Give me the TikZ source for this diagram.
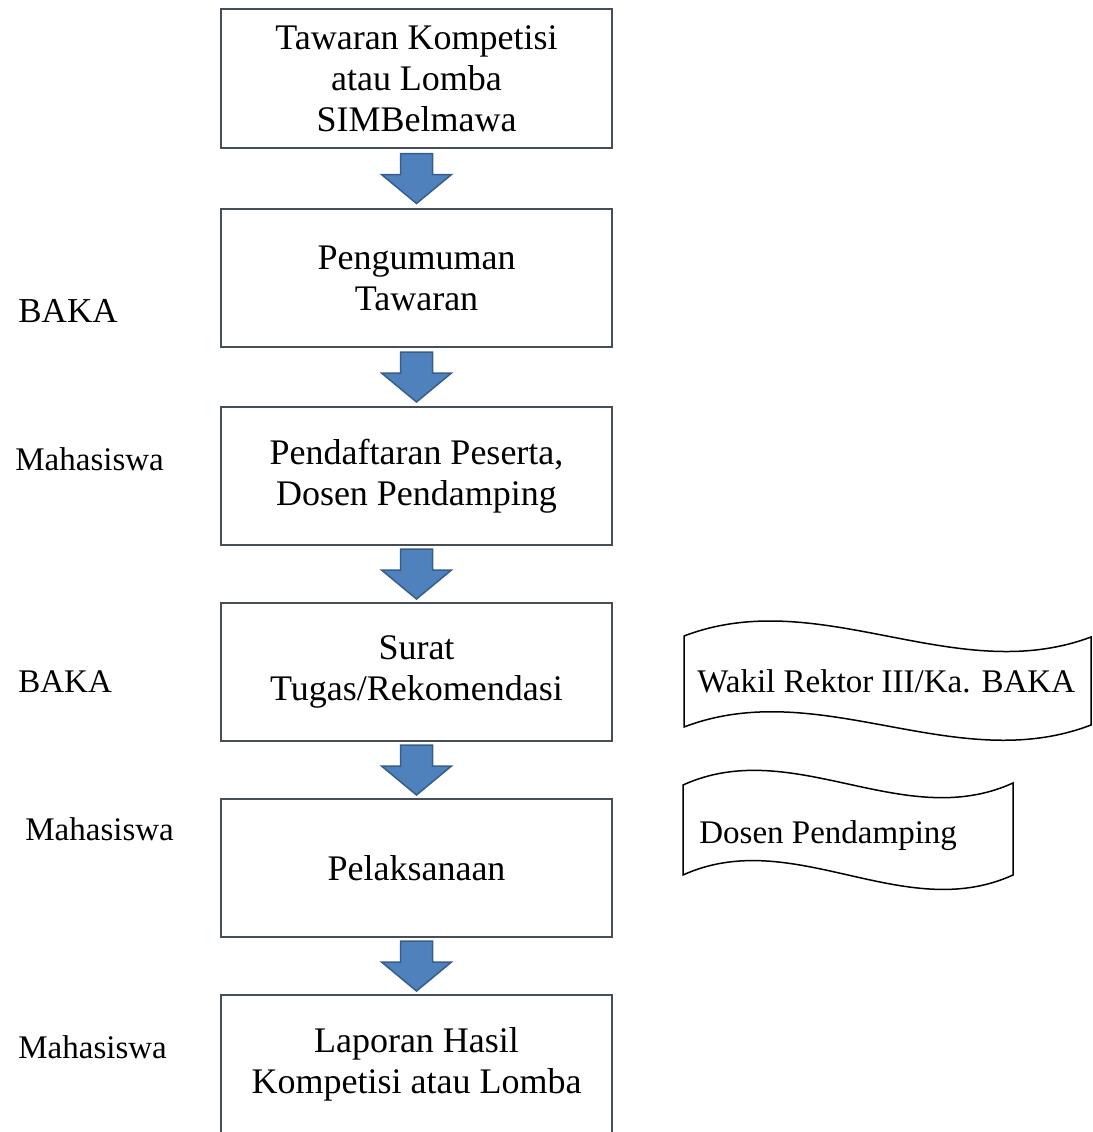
\documentclass[tikz,border=0pt]{standalone}
\usepackage{fontspec}
\setmainfont{Liberation Serif}
\usetikzlibrary{calc}

\definecolor{boxline}{RGB}{70,78,88}
\definecolor{arrowfill}{RGB}{79,129,189}
\definecolor{arrowline}{RGB}{56,93,138}

\tikzset{
  stepbox/.style={draw=boxline, line width=0.75pt, fill=white,
    minimum width=195.5pt, minimum height=69pt, inner sep=0pt,
    align=center, font=\fontsize{18}{20.5}\selectfont},
  sidelabel/.style={anchor=base west, inner sep=0pt, font=\fontsize{16.5}{19}\selectfont},
  wavebox/.style={draw=black, line width=0.75pt, fill=white},
  blockarrow/.pic={
    \draw[fill=arrowfill, draw=arrowline, line width=0.75pt, line join=miter]
      (-8pt,12.5pt) -- (8pt,12.5pt) -- (8pt,2pt) -- (17.5pt,2pt) -- (0pt,-12.5pt)
      -- (-17.5pt,2pt) -- (-8pt,2pt) -- cycle;
  }
}

\begin{document}
\begin{tikzpicture}[x=0.5pt, y=-0.5pt]
  \useasboundingbox (0,0) rectangle (1093,1132);
  \clip (0,0) rectangle (1093,1132);

  % steps
  \node[stepbox, minimum height=69.5pt] (tawaran) at (416.5,78.5) {Tawaran Kompetisi\\atau Lomba\\SIMBelmawa};
  \node[stepbox] (umum) at (416.5,278) {Pengumuman\\Tawaran};
  \node[stepbox] (daftar) at (416.5,476) {Pendaftaran Peserta,\\Dosen Pendamping};
  \node[stepbox] (surat) at (416.5,672) {Surat\\Tugas/Rekomendasi};
  \node[stepbox] (laksana) at (416.5,868) {Pelaksanaan};
  \node[stepbox] (laporan) at (416.5,1064) {Laporan Hasil\\Kompetisi atau Lomba};

  % arrows
  \pic at ($(tawaran.south)!0.5!(umum.north)$) {blockarrow};
  \pic at ($(umum.south)!0.5!(daftar.north)$) {blockarrow};
  \pic at ($(daftar.south)!0.5!(surat.north)$) {blockarrow};
  \pic at ($(surat.south)!0.5!(laksana.north)$) {blockarrow};
  \pic at ($(laksana.south)!0.5!(laporan.north)$) {blockarrow};

  % who does it
  \node[sidelabel, font=\fontsize{17.5}{20}\selectfont] (baka1) at (18,322) {BAKA};
  \node[sidelabel] (mhs1) at (15,470) {Mahasiswa};
  \node[sidelabel] (baka2) at (18,692) {BAKA};
  \node[sidelabel] (mhs2) at (25,840) {Mahasiswa};
  \node[sidelabel] (mhs3) at (18,1058) {Mahasiswa};

  % wave notes
  \draw[wavebox] (684,636) .. controls (820,584) and (955,688) .. (1091,637)
    -- (1091,725) .. controls (955,777) and (820,675) .. (684,727) -- cycle;
  \node[sidelabel] (wakil) at (697,692) {Wakil Rektor III/Ka. BAKA};

  \draw[wavebox] (683,785) .. controls (793,735) and (903,833) .. (1013,783)
    -- (1013,875) .. controls (903,925) and (793,825) .. (683,875) -- cycle;
  \node[sidelabel] (dospem) at (699,843) {Dosen Pendamping};
\end{tikzpicture}
\end{document}
